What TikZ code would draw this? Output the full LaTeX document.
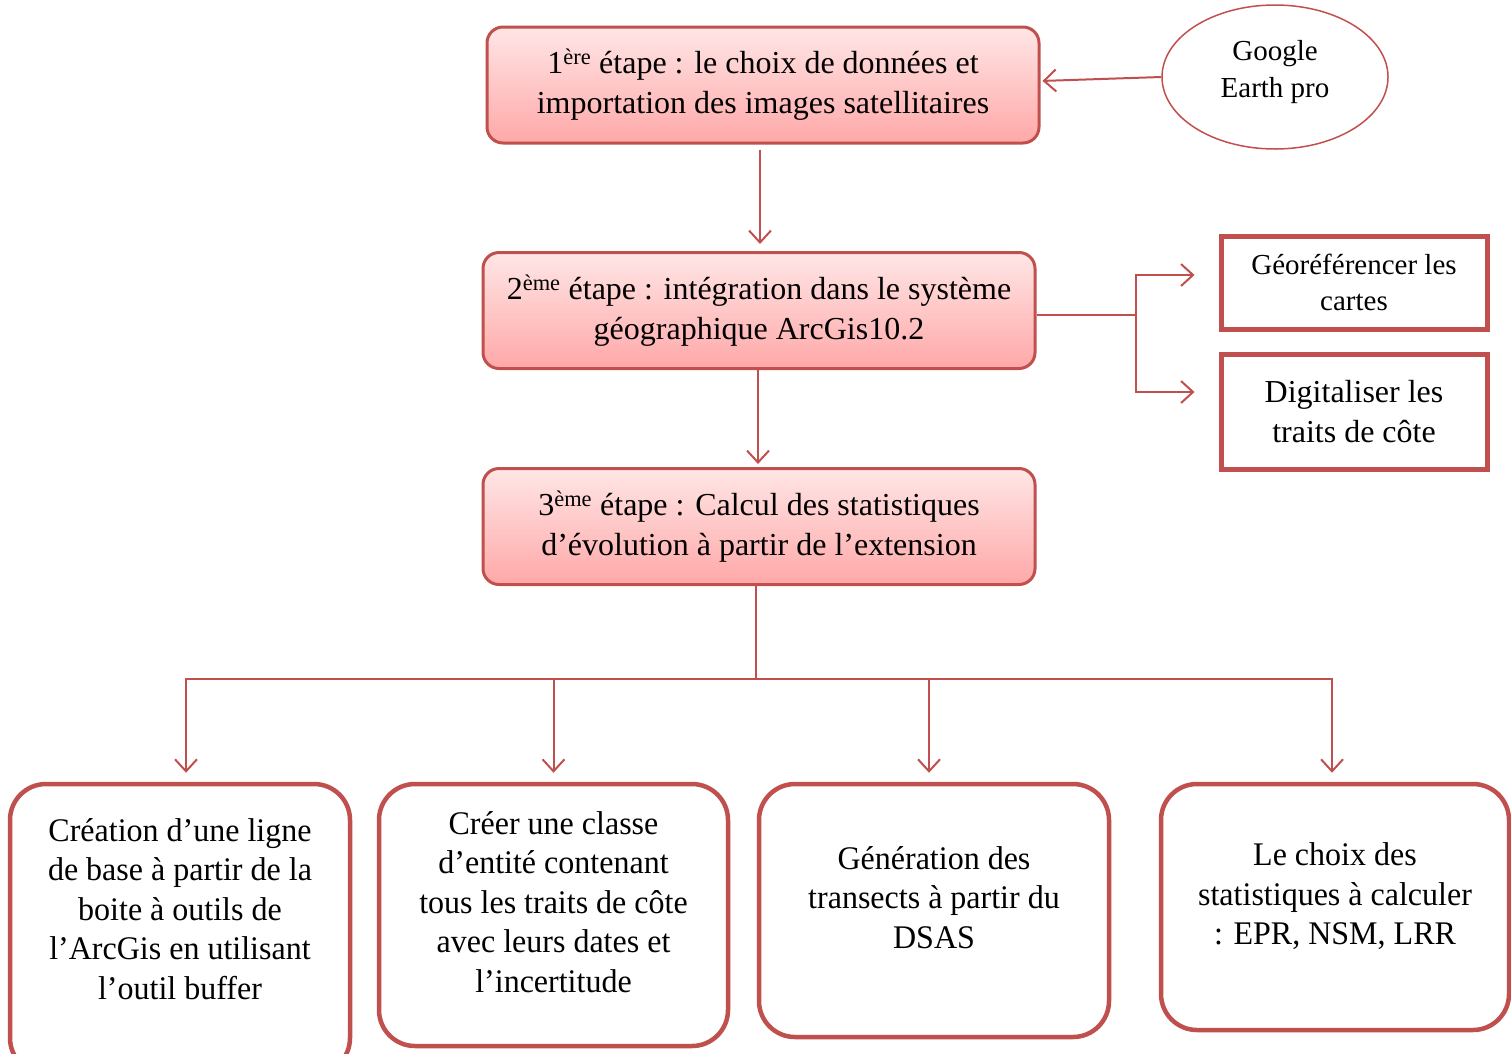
\documentclass[tikz,border=0pt]{standalone}
\usepackage{fontspec}
\setmainfont{Liberation Serif}
\newfontfamily\etroite{Liberation Serif}[FakeStretch=0.97]
\usetikzlibrary{arrows.meta,shapes.geometric}
\definecolor{rouge}{RGB}{192,80,77}
\definecolor{rosehaut}{RGB}{255,230,230}
\definecolor{rosebas}{RGB}{255,168,168}
\tikzset{
  etape/.style={draw=rouge, line width=3pt, rounded corners=16pt, top color=rosehaut, bottom color=rosebas,
    minimum width=552pt, minimum height=116pt, align=center, font=\fontsize{32}{40}\selectfont},
  tache/.style={draw=rouge, line width=5pt, minimum width=266pt, align=center},
  resultat/.style={draw=rouge, line width=4.5pt, rounded corners=36pt, align=center,
    font=\etroite\fontsize{33}{39.5}\selectfont},
  lien/.style={draw=rouge, line width=2pt},
  fleche/.style={lien, -{Straight Barb[length=12pt,width=22pt]}},
}
\begin{document}
\begin{tikzpicture}[x=1pt,y=-1pt]
\useasboundingbox (0,0) rectangle (1511,1053);

% les trois etapes
\node[etape] (etape1) at (763,85) {1\textsuperscript{ère} étape : le choix de données et\\importation des images satellitaires};
\node[etape] (etape2) at (759,310.5) {2\textsuperscript{ème} étape : intégration dans le système\\géographique ArcGis10.2};
\node[etape] (etape3) at (759,526.5) {3\textsuperscript{ème} étape : Calcul des statistiques\\d’évolution à partir de l’extension};

\node[ellipse, draw=rouge, line width=1.5pt, minimum width=226pt, minimum height=144pt, align=center,
  text depth=16pt, font=\fontsize{29}{37}\selectfont] (google) at (1275,77) {Google\\Earth pro};

\node[tache, minimum height=93pt, font=\fontsize{29}{36}\selectfont] (georef) at (1354,282.5) {Géoréférencer les\\cartes};
\node[tache, minimum height=115pt, font=\fontsize{32}{40}\selectfont] (digit) at (1354,411.5) {Digitaliser les\\traits de côte};

% les resultats
\node[resultat, minimum width=340pt, minimum height=290pt, text depth=40pt] (creation) at (180,929)
  {Création d’une ligne\\de base à partir de la\\boite à outils de\\l’ArcGis en utilisant\\l’outil buffer};
\node[resultat, minimum width=349pt, minimum height=262pt, text depth=26pt] (classe) at (553.5,915)
  {Créer une classe\\d’entité contenant\\tous les traits de côte\\avec leurs dates et\\l’incertitude};
\node[resultat, minimum width=350pt, minimum height=253pt, text depth=26pt] (transects) at (934,910.5)
  {Génération des\\transects à partir du\\DSAS};
\node[resultat, minimum width=348pt, minimum height=246pt, text depth=26pt] (choix) at (1335,907)
  {Le choix des\\statistiques à calculer\\: EPR, NSM, LRR};

% connecteurs
\draw[fleche, shorten >=2pt] (google.west) -- ([yshift=4pt]etape1.east);
\draw[fleche, shorten <=5pt, shorten >=7pt] ([xshift=-3pt]etape1.south) -- ([xshift=1pt]etape2.north);
\draw[fleche, shorten >=3pt] ([xshift=-1pt]etape2.south) -- ([xshift=-1pt]etape3.north);

\coordinate (branche) at (1136,315);
\draw[lien] ([yshift=-4.5pt]etape2.east) -- (branche);
\draw[fleche, shorten >=24pt] (branche) |- ([yshift=7.5pt]georef.west);
\draw[fleche, shorten >=24pt] (branche) |- ([yshift=19.5pt]digit.west);

\coordinate (fourche) at (756,679);
\draw[lien] ([xshift=-3pt]etape3.south) -- (fourche);
\draw[fleche, shorten >=9pt] (fourche) -| ([xshift=6pt]creation.north);
\draw[fleche, shorten >=9pt] (fourche) -| (classe.north);
\draw[fleche, shorten >=9pt] (fourche) -| ([xshift=-5pt]transects.north);
\draw[fleche, shorten >=9pt] (fourche) -| ([xshift=-3pt]choix.north);
\end{tikzpicture}
\end{document}
